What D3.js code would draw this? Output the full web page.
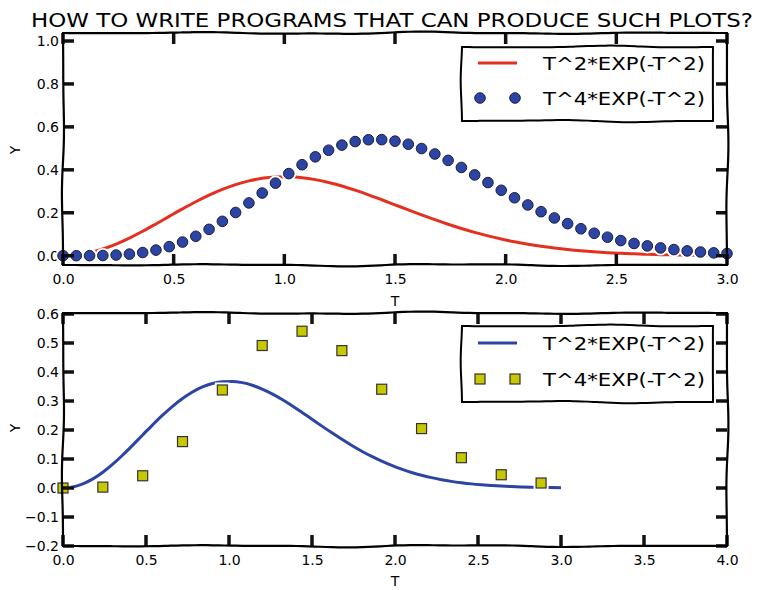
<!DOCTYPE html>
<html>
<head>
<meta charset="utf-8">
<script src="https://cdn.jsdelivr.net/npm/d3@7"></script>
<style>
html,body{margin:0;padding:0;background:#fff;}
svg{display:block;}
text{font-family:"DejaVu Sans", sans-serif; fill:#000;}
</style>
</head>
<body>
<svg id="chart" width="759" height="590"></svg>
<script>
// ---- data ----
const tValues = [0.00,0.06,0.12,0.18,0.24,0.30,0.36,0.42,0.48,0.54,0.60,0.66,0.72,0.78,0.84,0.90,0.96,1.02,1.08,1.14,1.20,1.26,1.32,1.38,1.44,1.50,1.56,1.62,1.68,1.74,1.80,1.86,1.92,1.98,2.04,2.10,2.16,2.22,2.28,2.34,2.40,2.46,2.52,2.58,2.64,2.70,2.76,2.82,2.88,2.94,3.00];
const y1Values = [0,0.0036,0.0142,0.0314,0.0544,0.0823,0.1138,0.1479,0.1830,0.2178,0.2512,0.2818,0.3087,0.3311,0.3484,0.3603,0.3667,0.3676,0.3633,0.3543,0.3412,0.3245,0.3051,0.2836,0.2607,0.2371,0.2134,0.1902,0.1678,0.1466,0.1269,0.1088,0.0924,0.0778,0.0649,0.0536,0.0439,0.0357,0.0287,0.0229,0.0182,0.0142,0.0111,0.0086,0.0066,0.0050,0.0037,0.0028,0.0021,0.0015,0.0011];
const y2Values = [0,0.0000,0.0002,0.0010,0.0031,0.0074,0.0148,0.0261,0.0422,0.0635,0.0904,0.1227,0.1600,0.2014,0.2458,0.2919,0.3380,0.3824,0.4238,0.4605,0.4913,0.5152,0.5316,0.5401,0.5406,0.5336,0.5194,0.4992,0.4737,0.4440,0.4111,0.3763,0.3406,0.3048,0.2699,0.2364,0.2049,0.1758,0.1493,0.1255,0.1045,0.0862,0.0704,0.0570,0.0457,0.0363,0.0285,0.0223,0.0172,0.0132,0.0100];
const tSparse = [0.00,0.24,0.48,0.72,0.96,1.20,1.44,1.68,1.92,2.16,2.40,2.64,2.88];
const y2Sparse = [0,0.0031,0.0422,0.1600,0.3380,0.4913,0.5406,0.4737,0.3406,0.2049,0.1045,0.0457,0.0172];
const titleText = "HOW TO WRITE PROGRAMS THAT CAN PRODUCE SUCH PLOTS?";
const legendLabels = ["T^2*EXP(-T^2)", "T^4*EXP(-T^2)"];
const topYTicks = [0.0,0.2,0.4,0.6,0.8,1.0];
const topXTicks = [0.0,0.5,1.0,1.5,2.0,2.5,3.0];
const botYTicks = [-0.2,-0.1,0.0,0.1,0.2,0.3,0.4,0.5,0.6];
const botXTicks = [0.0,0.5,1.0,1.5,2.0,2.5,3.0,3.5,4.0];

const svg = d3.select("#chart");
const RED = "#e3301f", BLUE = "#2c44a4", YEL = "#c8c800";

// wiggly line path between two points (xkcd-like)
function wiggle(x0,y0,x1,y1,amp,phase){
  const L = Math.hypot(x1-x0,y1-y0), n = Math.max(2, Math.round(L/6));
  const nx = -(y1-y0)/L, ny = (x1-x0)/L;
  const pts = d3.range(n+1).map(i=>{
    const f=i/n, w = amp*Math.sin(f*L/38+phase)*Math.sin(Math.PI*f)+0.5*amp*Math.sin(f*L/17+phase*2)*Math.sin(Math.PI*f);
    return [x0+(x1-x0)*f+nx*w, y0+(y1-y0)*f+ny*w];
  });
  return d3.line().curve(d3.curveBasis)(pts);
}
function wigglyBox(g,x0,y0,x1,y1,amp,fill){
  g.append("rect").attr("x",x0).attr("y",y0).attr("width",x1-x0).attr("height",y1-y0).attr("fill",fill).attr("stroke","none");
  [[x0,y0,x1,y0,1],[x1,y0,x1,y1,2],[x1,y1,x0,y1,3],[x0,y1,x0,y0,4]].forEach(s=>{
    g.append("path").attr("d",wiggle(s[0],s[1],s[2],s[3],amp,s[4])).attr("fill","none").attr("stroke","#000").attr("stroke-width",2).attr("stroke-linecap","round");
  });
}

function drawPanel(cfg){
  const {x,y,bottom,left,xTicks,yTicks} = cfg;
  const g = svg.append("g");
  const ax = g.append("g").attr("transform",`translate(0,${bottom})`)
    .call(d3.axisBottom(x).tickValues(xTicks).tickSize(0).tickPadding(9).tickFormat(d3.format(".1f")));
  ax.select(".domain").remove();
  ax.selectAll("text").attr("font-size",14).attr("font-family","DejaVu Sans");
  const ay = g.append("g").attr("transform",`translate(${left},0)`)
    .call(d3.axisLeft(y).tickValues(yTicks).tickSize(0).tickPadding(4).tickFormat(d3.format(".1f")));
  ay.select(".domain").remove();
  ay.selectAll("text").attr("font-size",14).attr("font-family","DejaVu Sans");
  return g;
}
function drawFrame(cfg){
  const {x,y,top,bottom,left,right,xTicks,yTicks} = cfg;
  const g = svg.append("g");
  const tk = (x0,y0,x1,y1)=>g.append("line").attr("x1",x0).attr("y1",y0).attr("x2",x1).attr("y2",y1).attr("stroke","#111").attr("stroke-width",3.5);
  yTicks.forEach(v=>{ tk(left,y(v),left+11,y(v)); tk(right,y(v),right-11,y(v)); });
  xTicks.forEach(v=>{ tk(x(v),bottom,x(v),bottom-11); tk(x(v),top,x(v),top+11); });
  [[left,top,right,top,1.3],[right,top,right,bottom,2.1],[right,bottom,left,bottom,0.7],[left,bottom,left,top,3.4]].forEach(s=>{
    g.append("path").attr("d",wiggle(s[0],s[1],s[2],s[3],1.0,s[4])).attr("fill","none").attr("stroke","#000").attr("stroke-width",2.2).attr("stroke-linecap","round");
  });
}

// ---------- title ----------
svg.append("text").attr("x",392).attr("y",27).attr("text-anchor","middle")
  .attr("font-size",19).attr("textLength",722).attr("lengthAdjust","spacingAndGlyphs").text(titleText);

// ---------- top panel ----------
const topP = {
  x: d3.scaleLinear().domain([0,3]).range([63,727]),
  y: d3.scaleLinear().domain([0,1]).range([255.7,41]),
  top:33, bottom:265, left:63, right:727,
  xTicks: topXTicks, yTicks: topYTicks
};
drawPanel(topP);
const pts1 = tValues.map((t,i)=>({t, a:y1Values[i], b:y2Values[i]}));
svg.append("path").datum(pts1)
  .attr("d", d3.line().x(d=>topP.x(d.t)).y(d=>topP.y(d.a)).curve(d3.curveMonotoneX))
  .attr("fill","none").attr("stroke",RED).attr("stroke-width",3);
svg.append("g").selectAll("circle").data(pts1).join("circle")
  .attr("cx",d=>topP.x(d.t)).attr("cy",d=>topP.y(d.b)).attr("r",5.6)
  .attr("fill",BLUE).attr("stroke","#fff").attr("stroke-width",4);
svg.append("g").selectAll("circle").data(pts1).join("circle")
  .attr("cx",d=>topP.x(d.t)).attr("cy",d=>topP.y(d.b)).attr("r",5.3)
  .attr("fill",BLUE).attr("stroke","#1c1f3a").attr("stroke-width",1);
drawFrame(topP);
svg.append("text").attr("x",395).attr("y",306).attr("text-anchor","middle").attr("font-size",14).text("T");
svg.append("text").attr("transform","translate(20,150) rotate(-90)").attr("text-anchor","middle").attr("font-size",14).text("Y");

// top legend
{
  const g = svg.append("g");
  wigglyBox(g,462,47,713,121,1.0,"#fff");
  g.append("line").attr("x1",478).attr("x2",517).attr("y1",63).attr("y2",63).attr("stroke",RED).attr("stroke-width",3);
  [480,515].forEach(cx=>g.append("circle").attr("cx",cx).attr("cy",98).attr("r",5.3).attr("fill",BLUE).attr("stroke","#1c1f3a").attr("stroke-width",1));
  g.append("text").attr("x",543).attr("y",70).attr("font-size",18).attr("textLength",162).attr("lengthAdjust","spacingAndGlyphs").text(legendLabels[0]);
  g.append("text").attr("x",543).attr("y",105).attr("font-size",18).attr("textLength",162).attr("lengthAdjust","spacingAndGlyphs").text(legendLabels[1]);
}

// ---------- bottom panel ----------
const botP = {
  x: d3.scaleLinear().domain([0,4]).range([63,727]),
  y: d3.scaleLinear().domain([-0.2,0.6]).range([546,314]),
  top:313, bottom:546, left:63, right:727,
  xTicks: botXTicks, yTicks: botYTicks
};
drawPanel(botP);
svg.append("path").datum(pts1)
  .attr("d", d3.line().x(d=>botP.x(d.t)).y(d=>botP.y(d.a)).curve(d3.curveMonotoneX))
  .attr("fill","none").attr("stroke",BLUE).attr("stroke-width",3);
const pts2 = tSparse.map((t,i)=>({t, b:y2Sparse[i]}));
const sq = 10;
svg.append("g").selectAll("rect").data(pts2).join("rect")
  .attr("x",d=>botP.x(d.t)-sq/2).attr("y",d=>botP.y(d.b)-sq/2).attr("width",sq).attr("height",sq)
  .attr("fill",YEL).attr("stroke","#fff").attr("stroke-width",5);
svg.append("g").selectAll("rect").data(pts2).join("rect")
  .attr("x",d=>botP.x(d.t)-sq/2).attr("y",d=>botP.y(d.b)-sq/2).attr("width",sq).attr("height",sq)
  .attr("fill",YEL).attr("stroke","#333").attr("stroke-width",1.2);
drawFrame(botP);
svg.append("text").attr("x",395).attr("y",586).attr("text-anchor","middle").attr("font-size",14).text("T");
svg.append("text").attr("transform","translate(20,428) rotate(-90)").attr("text-anchor","middle").attr("font-size",14).text("Y");

// bottom legend
{
  const g = svg.append("g");
  wigglyBox(g,462,326,713,402,1.0,"#fff");
  g.append("line").attr("x1",478).attr("x2",517).attr("y1",343).attr("y2",343).attr("stroke",BLUE).attr("stroke-width",3);
  [480,515].forEach(cx=>g.append("rect").attr("x",cx-5).attr("y",379-5).attr("width",10).attr("height",10).attr("fill",YEL).attr("stroke","#333").attr("stroke-width",1.2));
  g.append("text").attr("x",543).attr("y",350).attr("font-size",18).attr("textLength",162).attr("lengthAdjust","spacingAndGlyphs").text(legendLabels[0]);
  g.append("text").attr("x",543).attr("y",386).attr("font-size",18).attr("textLength",162).attr("lengthAdjust","spacingAndGlyphs").text(legendLabels[1]);
}
</script>
</body>
</html>
